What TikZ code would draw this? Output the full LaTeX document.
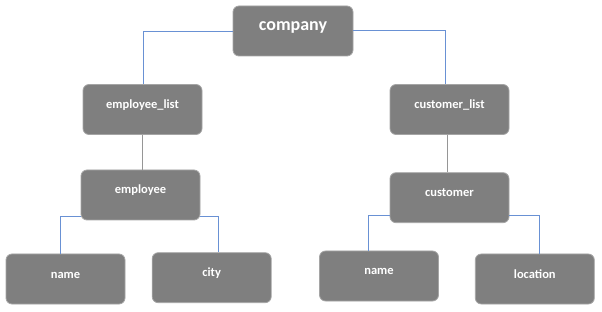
\documentclass[tikz,border=0pt]{standalone}
\usepackage{fontspec}
\setmainfont{Carlito}
\definecolor{boxfill}{RGB}{127,127,127}
\definecolor{boxedge}{RGB}{165,165,165}
\definecolor{linkblue}{RGB}{105,145,212}
\definecolor{linkgray}{RGB}{150,150,150}
\tikzset{
  box/.style={draw=boxedge, line width=0.8pt, fill=boxfill, rounded corners=6pt,
    minimum width=119pt, minimum height=50pt, inner sep=0pt,
    text=white, font=\fontsize{12.5}{14}\selectfont\bfseries,
    text height=8pt, text depth=10pt},
  bigbox/.style={box, minimum width=120pt, font=\fontsize{18}{20}\selectfont\bfseries,
    text height=11pt, text depth=11pt},
  bluelink/.style={draw=linkblue, line width=1pt},
  graylink/.style={draw=linkgray, line width=1pt}
}
\begin{document}
\begin{tikzpicture}[x=1pt, y=-1pt]
\useasboundingbox (0,0) rectangle (602,312);
% connectors (drawn first, behind boxes)
\coordinate (cl) at (143,31.5);
\coordinate (cr) at (445,31);
\coordinate (el) at (60,216.5);
\coordinate (er) at (218.5,216.5);
\coordinate (ul) at (368.5,216);
\coordinate (ur) at (539.5,216);
\coordinate (eg) at (142,135);
\coordinate (ug) at (447,135);

\node[bigbox] (company) at (293,31) {company};
\node[box] (emplist) at (142.5,109.5) {employee\_list};
\node[box] (custlist) at (449.5,109.5) {customer\_list};
\node[box] (employee) at (140.5,195) {employee};
\node[box] (customer) at (449.5,197.7) {customer};
\node[box] (nameL) at (65.5,279) {name};
\node[box] (city) at (211.7,277.7) {city};
\node[box] (nameR) at (379,276) {name};
\node[box] (location) at (534.8,279) {location};

\begin{scope}[on background layer/.try]
\end{scope}
\draw[bluelink] (company.west |- cl) -- (cl) -- (cl |- emplist.north);
\draw[bluelink] (company.east |- cr) -- (cr) -- (cr |- custlist.north);
\draw[graylink] (eg) -- (eg |- employee.north);
\draw[graylink] (ug) -- (ug |- customer.north);
\draw[bluelink] (employee.west |- el) -- (el) -- (el |- nameL.north);
\draw[bluelink] (employee.east |- er) -- (er) -- (er |- city.north);
\draw[bluelink] (customer.west |- ul) -- (ul) -- (ul |- nameR.north);
\draw[bluelink] (customer.east |- ur) -- (ur) -- (ur |- location.north);
\end{tikzpicture}
\end{document}
